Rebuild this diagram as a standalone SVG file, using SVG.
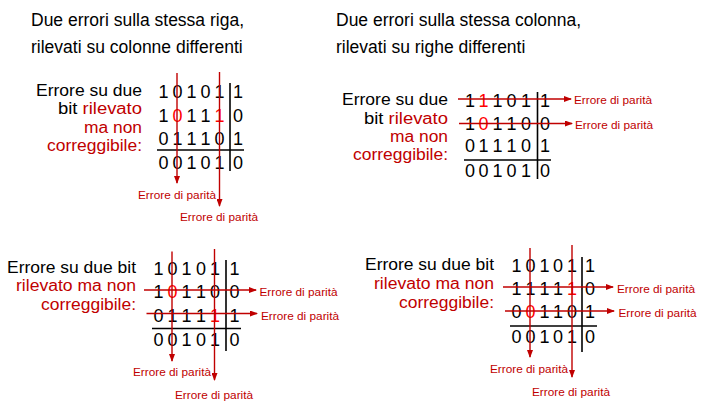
<svg xmlns="http://www.w3.org/2000/svg" width="704" height="406" viewBox="0 0 704 406">
<defs>
<style>
text{font-family:"Liberation Sans",Arial,sans-serif;}
.t{font-size:17.5px;fill:#000;}
.lb{font-size:16px;fill:#000;text-anchor:end;}
.r{fill:#C00000;}
.d{font-size:18px;fill:#000;text-anchor:middle;}
.rd{fill:#FF0000;}
.ep{font-size:11.8px;fill:#C00000;}
.rule{stroke:#000;stroke-width:1.6;fill:none;}
.ar{stroke:#C00000;stroke-width:1.4;fill:none;marker-end:url(#ah);}
</style>
<marker id="ah" markerWidth="8" markerHeight="6" refX="7" refY="3" orient="auto" markerUnits="userSpaceOnUse">
<path d="M0,0 L8,3 L0,6 Z" fill="#C00000"/>
</marker>
</defs>
<rect width="704" height="406" fill="#fff"/>

<g id="titles">
<text class="t" x="31" y="26">Due errori sulla stessa riga,</text>
<text class="t" x="31" y="53">rilevati su colonne differenti</text>
<text class="t" x="336" y="26">Due errori sulla stessa colonna,</text>
<text class="t" x="336" y="53">rilevati su righe differenti</text>
</g>

<!-- Panel top-left -->
<g id="tl-label">
<text class="lb" x="142" y="96" textLength="106" lengthAdjust="spacingAndGlyphs">Errore su due</text>
<text class="lb" x="142" y="114" textLength="84" lengthAdjust="spacingAndGlyphs">bit  <tspan class="r">rilevato</tspan></text>
<text class="lb r" x="142" y="133" textLength="58" lengthAdjust="spacingAndGlyphs">ma non</text>
<text class="lb r" x="142" y="151" textLength="95" lengthAdjust="spacingAndGlyphs">correggibile:</text>
</g>
<g id="tl-grid">
<g class="d">
<text x="163.5" y="98">1</text><text x="177.5" y="98">0</text><text x="191.5" y="98">1</text><text x="205.5" y="98">0</text><text x="219.5" y="98">1</text><text x="238" y="98">1</text>
<text x="163.5" y="121.5">1</text><text class="rd" x="177.5" y="121.5">0</text><text x="191.5" y="121.5">1</text><text x="205.5" y="121.5">1</text><text class="rd" x="219.5" y="121.5">1</text><text x="238" y="121.5">0</text>
<text x="163.5" y="144.5">0</text><text x="177.5" y="144.5">1</text><text x="191.5" y="144.5">1</text><text x="205.5" y="144.5">1</text><text x="219.5" y="144.5">0</text><text x="238" y="144.5">1</text>
<text x="163.5" y="168.5">0</text><text x="177.5" y="168.5">0</text><text x="191.5" y="168.5">1</text><text x="205.5" y="168.5">0</text><text x="219.5" y="168.5">1</text><text x="238" y="168.5">0</text>
</g>
<line class="rule" x1="157" y1="150" x2="244" y2="150"/>
<line class="rule" x1="230" y1="83" x2="230" y2="171"/>
</g>
<g id="tl-out1"><text class="ep" x="138" y="199">Errore di parità</text></g>
<g id="tl-out2"><text class="ep" x="180" y="221">Errore di parità</text></g>

<!-- Panel top-right -->
<g id="tr-label">
<text class="lb" x="448" y="105" textLength="106" lengthAdjust="spacingAndGlyphs">Errore su due</text>
<text class="lb" x="448" y="123.5" textLength="84" lengthAdjust="spacingAndGlyphs">bit  <tspan class="r">rilevato</tspan></text>
<text class="lb r" x="448" y="142" textLength="58" lengthAdjust="spacingAndGlyphs">ma non</text>
<text class="lb r" x="448" y="160" textLength="95" lengthAdjust="spacingAndGlyphs">correggibile:</text>
</g>
<g id="tr-grid">
<g class="d">
<text x="470" y="107">1</text><text class="rd" x="483.5" y="107">1</text><text x="497.5" y="107">1</text><text x="511.5" y="107">0</text><text x="526" y="107">1</text><text x="545" y="107">1</text>
<text x="470" y="129.5">1</text><text class="rd" x="483.5" y="129.5">0</text><text x="497.5" y="129.5">1</text><text x="511.5" y="129.5">1</text><text x="526" y="129.5">0</text><text x="545" y="129.5">0</text>
<text x="470" y="152">0</text><text x="483.5" y="152">1</text><text x="497.5" y="152">1</text><text x="511.5" y="152">1</text><text x="526" y="152">0</text><text x="545" y="152">1</text>
<text x="470" y="176.5">0</text><text x="483.5" y="176.5">0</text><text x="497.5" y="176.5">1</text><text x="511.5" y="176.5">0</text><text x="526" y="176.5">1</text><text x="545" y="176.5">0</text>
</g>
<line class="rule" x1="464" y1="160" x2="551" y2="160"/>
<line class="rule" x1="537.5" y1="92" x2="537.5" y2="179"/>
</g>
<g id="tr-out1"><text class="ep" x="574" y="103.5">Errore di parità</text></g>
<g id="tr-out2"><text class="ep" x="575" y="129">Errore di parità</text></g>

<!-- Panel bottom-left -->
<g id="bl-label">
<text class="lb" x="136" y="273" textLength="129" lengthAdjust="spacingAndGlyphs">Errore su due bit</text>
<text class="lb r" x="136" y="291" textLength="120" lengthAdjust="spacingAndGlyphs">rilevato ma non</text>
<text class="lb r" x="136" y="309.5" textLength="95" lengthAdjust="spacingAndGlyphs">correggibile:</text>
</g>
<g id="bl-grid">
<g class="d">
<text x="158.5" y="274.5">1</text><text x="172.5" y="274.5">0</text><text x="186.5" y="274.5">1</text><text x="201" y="274.5">0</text><text x="215" y="274.5">1</text><text x="234.5" y="274.5">1</text>
<text x="158.5" y="298">1</text><text class="rd" x="172.5" y="298">0</text><text x="186.5" y="298">1</text><text x="201" y="298">1</text><text x="215" y="298">0</text><text x="234.5" y="298">0</text>
<text x="158.5" y="321.5">0</text><text x="172.5" y="321.5">1</text><text x="186.5" y="321.5">1</text><text x="201" y="321.5">1</text><text class="rd" x="215" y="321.5">1</text><text x="234.5" y="321.5">1</text>
<text x="158.5" y="346">0</text><text x="172.5" y="346">0</text><text x="186.5" y="346">1</text><text x="201" y="346">0</text><text x="215" y="346">1</text><text x="234.5" y="346">0</text>
</g>
<line class="rule" x1="152" y1="328.5" x2="241" y2="328.5"/>
<line class="rule" x1="226" y1="260" x2="226" y2="351"/>
</g>
<g id="bl-out1"><text class="ep" x="133" y="376">Errore di parità</text></g>
<g id="bl-out2"><text class="ep" x="175" y="399">Errore di parità</text></g>
<g id="bl-out3"><text class="ep" x="259.5" y="295.5">Errore di parità</text></g>
<g id="bl-out4"><text class="ep" x="261" y="320">Errore di parità</text></g>

<!-- Panel bottom-right -->
<g id="br-label">
<text class="lb" x="494" y="270" textLength="129" lengthAdjust="spacingAndGlyphs">Errore su due bit</text>
<text class="lb r" x="494" y="289" textLength="120" lengthAdjust="spacingAndGlyphs">rilevato ma non</text>
<text class="lb r" x="494" y="308" textLength="95" lengthAdjust="spacingAndGlyphs">correggibile:</text>
</g>
<g id="br-grid">
<g class="d">
<text x="516.5" y="271.5">1</text><text x="530.5" y="271.5">0</text><text x="544.5" y="271.5">1</text><text x="558" y="271.5">0</text><text x="572" y="271.5">1</text><text x="590" y="271.5">1</text>
<text x="516.5" y="295">1</text><text x="530.5" y="295">1</text><text x="544.5" y="295">1</text><text x="558" y="295">1</text><text class="rd" x="572" y="295">1</text><text x="590" y="295">0</text>
<text x="516.5" y="317.5">0</text><text class="rd" x="530.5" y="317.5">0</text><text x="544.5" y="317.5">1</text><text x="558" y="317.5">1</text><text x="572" y="317.5">0</text><text x="590" y="317.5">1</text>
<text x="516.5" y="342.5">0</text><text x="530.5" y="342.5">0</text><text x="544.5" y="342.5">1</text><text x="558" y="342.5">0</text><text x="572" y="342.5">1</text><text x="590" y="342.5">0</text>
</g>
<line class="rule" x1="510" y1="326" x2="597" y2="326"/>
<line class="rule" x1="582" y1="257" x2="582" y2="352"/>
</g>
<g id="br-out1"><text class="ep" x="490" y="372.5">Errore di parità</text></g>
<g id="br-out2"><text class="ep" x="532" y="396">Errore di parità</text></g>
<g id="br-out3"><text class="ep" x="617" y="292.5">Errore di parità</text></g>
<g id="br-out4"><text class="ep" x="618.5" y="317">Errore di parità</text></g>

<g id="connectors">
<line class="ar" x1="177" y1="73" x2="177" y2="183"/>
<line class="ar" x1="219.5" y1="72" x2="219.5" y2="206"/>
<line class="ar" x1="458" y1="99" x2="571" y2="99"/>
<line class="ar" x1="459" y1="123.5" x2="572" y2="123.5"/>
<line class="ar" x1="172" y1="251.5" x2="172" y2="361"/>
<line class="ar" x1="214.5" y1="249" x2="214.5" y2="380"/>
<line class="ar" x1="144" y1="290" x2="256" y2="290"/>
<line class="ar" x1="146.5" y1="313.5" x2="257" y2="313.5"/>
<line class="ar" x1="530" y1="248" x2="530" y2="357"/>
<line class="ar" x1="572" y1="245" x2="572" y2="377"/>
<line class="ar" x1="503" y1="287" x2="613" y2="287"/>
<line class="ar" x1="505" y1="311" x2="614" y2="311"/>
</g>
</svg>
